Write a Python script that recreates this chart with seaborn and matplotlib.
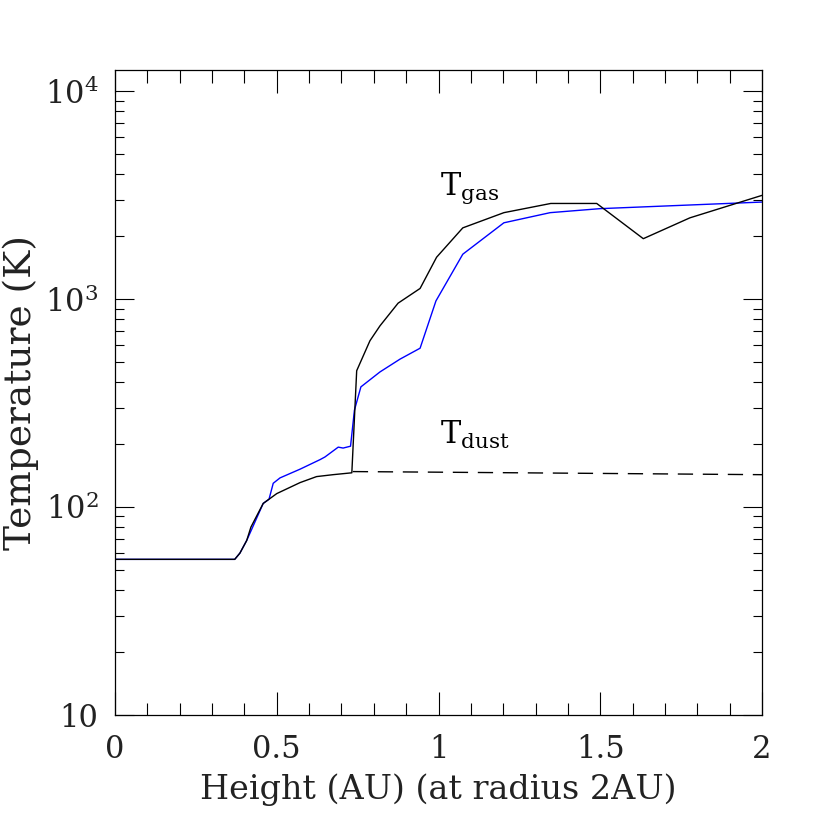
import numpy as np
import pandas as pd
import matplotlib
matplotlib.use("Agg")
import matplotlib.pyplot as plt
import seaborn as sns
from matplotlib.ticker import FixedLocator, MultipleLocator, LogLocator, NullFormatter

# Gas temperature (black), model 1
gas_x = [0, 0.37, 0.386, 0.407, 0.42, 0.458, 0.5, 0.572, 0.623, 0.674, 0.732,
         0.747, 0.788, 0.819, 0.875, 0.943, 0.994, 1.075, 1.202, 1.347, 1.489,
         1.633, 1.777, 2.0]
gas_T = [56, 56, 60, 69, 80, 104, 116, 131, 140, 143, 146,
         452, 630, 743, 955, 1124, 1588, 2198, 2601, 2880, 2880,
         1950, 2456, 3150]

# Gas temperature (blue), model 2
blue_x = [0, 0.37, 0.386, 0.407, 0.458, 0.476, 0.489, 0.51, 0.572, 0.634, 0.649,
          0.69, 0.705, 0.728, 0.74, 0.76, 0.819, 0.881, 0.943, 0.992, 1.075,
          1.202, 1.345, 1.499, 2.0]
blue_T = [56, 56, 60, 69, 104, 109, 130, 138, 152, 169, 174,
          194, 192, 196, 292, 378, 446, 514, 580, 979, 1642,
          2325, 2601, 2719, 2925]

# Dust temperature (dashed)
dust_x = [0.735, 1.0, 1.5, 2.0]
dust_T = [148, 147, 145, 143]

sns.set_style("white")
plt.rcParams['font.family'] = ['DejaVu Serif']
plt.rcParams['mathtext.fontset'] = 'dejavuserif'

gas = pd.DataFrame({'x': gas_x, 'T': gas_T})
blue = pd.DataFrame({'x': blue_x, 'T': blue_T})
dust = pd.DataFrame({'x': dust_x, 'T': dust_T})

fig = plt.figure(figsize=(8.3, 8.3), dpi=100)
ax = fig.add_axes([0.1386, 0.1386, 0.7795, 0.7771])

sns.lineplot(data=blue, x='x', y='T', sort=False, estimator=None, color='#0000ff', lw=1.0, ax=ax)
sns.lineplot(data=gas, x='x', y='T', sort=False, estimator=None, color='black', lw=1.0, ax=ax)
sns.lineplot(data=dust, x='x', y='T', sort=False, estimator=None, color='black', lw=1.0,
             ax=ax, dashes=False)
ax.lines[-1].set_dashes((11, 7))

ax.set_yscale('log')
ax.set_xlim(0, 2)
ax.set_ylim(10, 12625)

ax.xaxis.set_major_locator(MultipleLocator(0.5))
ax.xaxis.set_minor_locator(MultipleLocator(0.1))
ax.set_xticks([0, 0.5, 1, 1.5, 2])
ax.set_xticklabels(['0', '0.5', '1', '1.5', '2'])
ax.yaxis.set_major_locator(FixedLocator([10, 100, 1000, 10000]))
ax.yaxis.set_minor_locator(LogLocator(base=10, subs=np.arange(2, 10)))
ax.yaxis.set_minor_formatter(NullFormatter())
ax.set_yticklabels(['10', r'$10^2$', r'$10^3$', r'$10^4$'])

ax.tick_params(which='both', direction='in', top=True, right=True, bottom=True, left=True,
               colors='black', labelsize=22, labelcolor='#222222')
ax.tick_params(axis='x', which='major', length=16.5, width=0.8, pad=14)
ax.tick_params(axis='x', which='minor', length=9, width=0.8)
ax.tick_params(axis='y', which='major', length=14, width=0.8, pad=12)
ax.tick_params(axis='y', which='minor', length=6.5, width=0.8)
for s in ax.spines.values():
    s.set_color('black')
    s.set_linewidth(0.9)

ax.set_xlabel('Height (AU) (at radius 2AU)', fontsize=24, color='#222222', labelpad=6)
ax.set_ylabel('Temperature (K)', fontsize=27, color='#222222', labelpad=4)

ax.text(1.005, 3162, r'T$_{\mathrm{gas}}$', fontsize=22, color='black')
ax.text(1.005, 200, r'T$_{\mathrm{dust}}$', fontsize=22, color='black')

fig.savefig('out.png', dpi=100)
